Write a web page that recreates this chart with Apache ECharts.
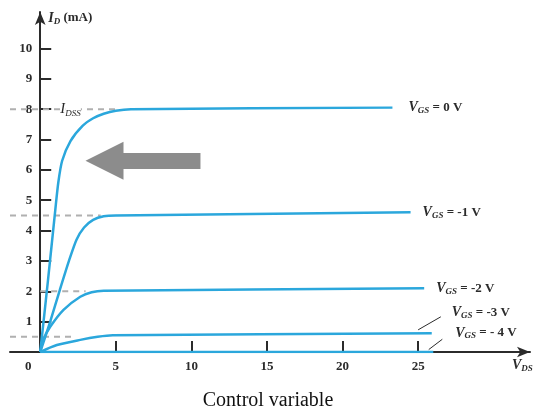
<!DOCTYPE html>
<html>
<head>
<meta charset="utf-8">
<script src="https://cdn.jsdelivr.net/npm/echarts@6/dist/echarts.min.js"></script>
<style>
  html, body { margin: 0; padding: 0; background: #fff; }
  #chart { width: 536px; height: 415px; }
</style>
</head>
<body>
<div id="chart"></div>
<script>
// drain characteristics: [VDS, ID]
const curve0 = [[0, 0], [0.5, 2.3], [1.0, 4.7], [1.2, 5.6], [1.45, 6.3], [2.0, 6.95], [2.8, 7.45], [3.5, 7.7], [4.2, 7.85], [5, 7.95], [6, 8], [23.3, 8.05]];
const curve1 = [[0, 0], [0.66, 1], [1.3, 2.05], [1.9, 3.0], [2.4, 3.7], [2.9, 4.1], [3.5, 4.35], [4.2, 4.47], [5, 4.5], [24.5, 4.6]];
const curve2 = [[0, 0], [0.2, 0.4], [0.66, 0.83], [1.54, 1.39], [2.65, 1.82], [3.4, 1.97], [4.2, 2.02], [25.4, 2.1]];
const curve3 = [[0, 0], [1.1, 0.23], [2.65, 0.4], [3.8, 0.5], [4.8, 0.55], [25.9, 0.62]];
const curve4 = [[0, 0], [26, 0]];

const curveNames = ["0 V", "-1 V", "-2 V", "-3 V", "- 4 V"];
const curves = [curve0, curve1, curve2, curve3, curve4];
const labelOffsets = [[8, 0], [4, 0], [4, 0], [12, -21], [14, -19]];

// dashed reference levels: [level, start VDS, end VDS]
const dashLevels = [[8, -2, 5.2], [4.5, -2, 4.0], [2, 0, 3.0], [0.5, -2, 2.3]];

const xLabelValues = [0, 5, 10, 15, 20, 25];
const xTickValues = [5, 10, 15, 20, 25];
const yTickValues = [1, 2, 3, 4, 5, 6, 7, 8, 9, 10];

const X_MIN = -2;
const X_MAX = 32.4;
const GRID_LEFT = 10;
const GRID_RIGHT = 6;
const WIDTH = 536;

const BLUE = "#2ba7dc";
const INK = "#2b2b2b";
const SERIF = "'Liberation Serif', 'DejaVu Serif', serif";

const subRich = {
  v: { fontFamily: SERIF, fontStyle: "italic", fontWeight: "bold", fontSize: 14, color: INK },
  s: { fontFamily: SERIF, fontStyle: "italic", fontWeight: "bold", fontSize: 9, color: INK, padding: [6, 0, 0, 0] },
  t: { fontFamily: SERIF, fontWeight: "bold", fontSize: 13, color: INK }
};

// shift the y axis from the grid edge onto VDS = 0
const gridWidth = WIDTH - GRID_LEFT - GRID_RIGHT;
const yAxisShift = (0 - X_MIN) / (X_MAX - X_MIN) * gridWidth;

const chart = echarts.init(document.getElementById("chart"));

const series = [];

dashLevels.forEach((d) => {
  series.push({
    type: "line",
    data: [[d[1], d[0]], [d[2], d[0]]],
    symbol: "none",
    silent: true,
    z: 1,
    lineStyle: { color: "#b0b0b0", width: 2, type: [6, 5] }
  });
});

curves.forEach((c, i) => {
  series.push({
    type: "line",
    data: c,
    symbol: "none",
    smooth: 0.25,
    z: 3,
    lineStyle: { color: BLUE, width: 2.5 },
    endLabel: {
      show: true,
      offset: labelOffsets[i],
      formatter: "{v|V}{s|GS}{t| = " + curveNames[i] + "}",
      rich: subRich
    }
  });
});

// annotations: IDSS tag, grey arrow and the leader lines
series.push({
  type: "line",
  data: [],
  z: 2,
  markPoint: {
    symbol: "circle",
    symbolSize: 0,
    silent: true,
    data: [{ coord: [1.0, 8] }],
    label: {
      show: true,
      position: "right",
      formatter: "{i|I}{s|DSS}",
      rich: {
        i: { fontFamily: SERIF, fontStyle: "italic", fontSize: 15, color: INK, backgroundColor: "#fff" },
        s: { fontFamily: SERIF, fontStyle: "italic", fontSize: 9, color: INK, padding: [8, 0, 0, 0], backgroundColor: "#fff" }
      }
    }
  },
  markLine: {
    silent: true,
    symbol: ["none", "triangle"],
    symbolSize: [38, 38],
    label: { show: false },
    lineStyle: { color: "#8c8c8c", width: 16, type: "solid", cap: "butt" },
    data: [[{ coord: [10.6, 6.3] }, { coord: [4.25, 6.3] }]]
  }
});
series.push({
  type: "line",
  data: [],
  markLine: {
    silent: true,
    symbol: ["none", "none"],
    label: { show: false },
    lineStyle: { color: INK, width: 1, type: "solid" },
    data: [
      [{ coord: [25.0, 0.73] }, { coord: [26.5, 1.16] }],
      [{ coord: [25.7, 0.08] }, { coord: [26.6, 0.42] }]
    ]
  }
});

chart.setOption({
  animation: false,
  backgroundColor: "#fff",
  title: {
    text: "Control variable",
    left: "center",
    top: 386,
    textStyle: { fontFamily: SERIF, fontSize: 20, fontWeight: "normal", color: "#111" }
  },
  grid: { left: GRID_LEFT, right: GRID_RIGHT, top: 12, bottom: 63, containLabel: false, outerBoundsMode: "none" },
  xAxis: {
    type: "value",
    min: X_MIN,
    max: X_MAX,
    name: "{v|V}{s|DS}",
    nameLocation: "end",
    nameGap: -18,
    nameTextStyle: {
      align: "left",
      verticalAlign: "top",
      padding: [6, 0, 0, 0],
      rich: subRich
    },
    axisLine: {
      onZero: true,
      symbol: ["none", "arrow"],
      symbolSize: [8, 13],
      lineStyle: { color: INK, width: 2 }
    },
    axisTick: {
      inside: true,
      length: 11,
      customValues: xTickValues,
      lineStyle: { color: INK, width: 2 }
    },
    axisLabel: {
      customValues: xLabelValues,
      margin: 8,
      formatter: (v) => (v === 0 ? "{z|0}" : String(v)),
      fontFamily: SERIF,
      fontWeight: "bold",
      fontSize: 13,
      color: INK,
      rich: {
        z: { fontFamily: SERIF, fontWeight: "bold", fontSize: 13, color: INK, padding: [0, 24, 0, 0] }
      }
    },
    splitLine: { show: false }
  },
  yAxis: {
    type: "value",
    min: 0,
    max: 11.2,
    offset: -yAxisShift,
    name: "{i|I}{s|D}{t| (mA)}",
    nameLocation: "end",
    nameGap: -6,
    nameTextStyle: {
      align: "left",
      verticalAlign: "middle",
      padding: [0, 0, 0, 8],
      rich: {
        i: { fontFamily: SERIF, fontStyle: "italic", fontWeight: "bold", fontSize: 14, color: INK },
        s: { fontFamily: SERIF, fontStyle: "italic", fontWeight: "bold", fontSize: 9, color: INK, padding: [7, 0, 0, 0] },
        t: { fontFamily: SERIF, fontWeight: "bold", fontSize: 13, color: INK }
      }
    },
    axisLine: {
      onZero: false,
      symbol: ["none", "arrow"],
      symbolSize: [8, 13],
      lineStyle: { color: INK, width: 2 }
    },
    axisTick: {
      inside: true,
      length: 11,
      customValues: yTickValues,
      lineStyle: { color: INK, width: 2 }
    },
    axisLabel: {
      customValues: yTickValues,
      margin: 8,
      fontFamily: SERIF,
      fontWeight: "bold",
      fontSize: 13,
      color: INK
    },
    splitLine: { show: false }
  },
  series: series
});
</script>
</body>
</html>
